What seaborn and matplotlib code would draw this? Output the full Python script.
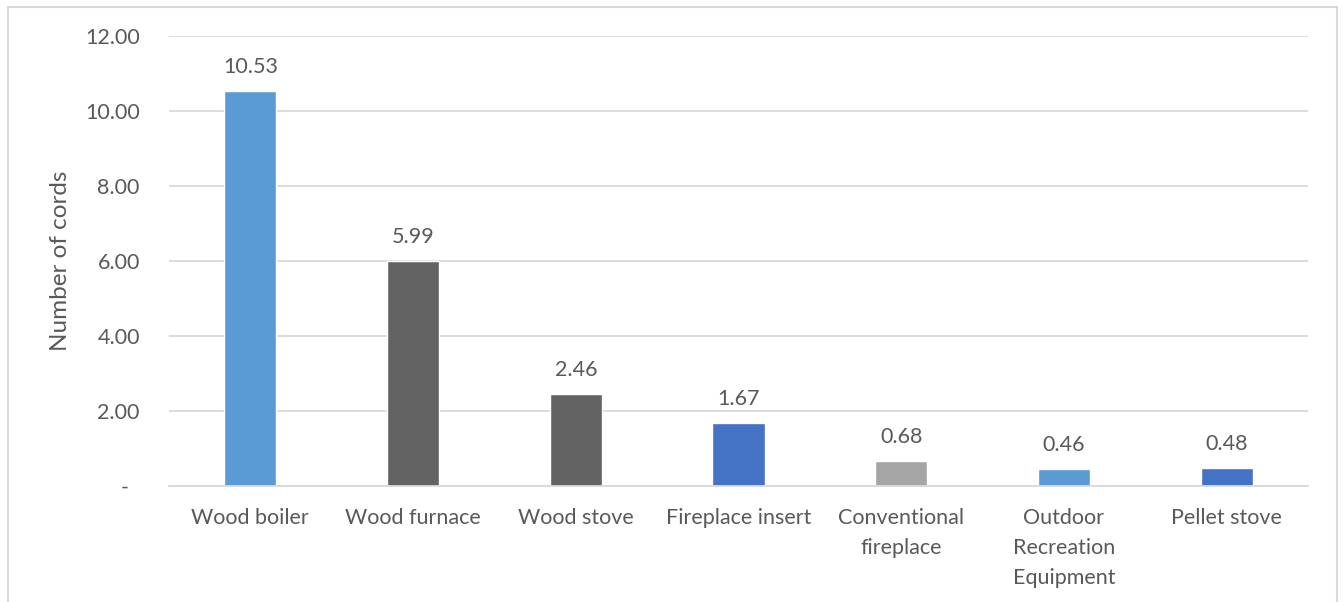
import matplotlib
matplotlib.use("Agg")
import matplotlib.pyplot as plt
import seaborn as sns
import pandas as pd
import numpy as np
from matplotlib.patches import Rectangle

categories = ["Wood boiler", "Wood furnace", "Wood stove", "Fireplace insert",
              "Conventional\nfireplace", "Outdoor\nRecreation\nEquipment", "Pellet stove"]
cords = [10.53, 5.99, 2.46, 1.67, 0.68, 0.46, 0.48]
bar_colors = ["#5B9BD5", "#636363", "#636363", "#4472C4", "#A5A5A5", "#5B9BD5", "#4472C4"]
y_ticks = [0, 2, 4, 6, 8, 10, 12]
y_tick_labels = ["-  ", "2.00", "4.00", "6.00", "8.00", "10.00", "12.00"]

sns.set_theme(style="white")
plt.rcParams["font.family"] = ["Lato", "DejaVu Sans"]

text_color = "#595959"
grid_color = "#D9D9D9"
label_size = 15.5

df = pd.DataFrame({"category": categories, "cords": cords})

fig = plt.figure(figsize=(13.43, 6.02), dpi=100)
ax = fig.add_axes([169 / 1343, 1 - 486 / 602, (1308 - 169) / 1343, (486 - 36) / 602])

sns.barplot(data=df, x="category", y="cords", hue="category", palette=bar_colors,
            dodge=False, width=0.32, legend=False, ax=ax, saturation=1)

ax.set_ylim(0, 12)
ax.set_xlim(-0.5, len(categories) - 0.5)
ax.set_yticks(y_ticks)
ax.set_yticklabels(y_tick_labels)
ax.yaxis.grid(True, color=grid_color, linewidth=1.3)
ax.set_axisbelow(True)

for side in ["top", "right", "left"]:
    ax.spines[side].set_visible(False)
ax.spines["bottom"].set_color(grid_color)
ax.spines["bottom"].set_linewidth(1.3)

ax.tick_params(axis="y", length=0, pad=21, labelsize=label_size, labelcolor=text_color)
ax.tick_params(axis="x", which="major", length=0, pad=16, labelsize=label_size, labelcolor=text_color)
ax.set_xticks(np.arange(-0.5, len(categories)), minor=True)
ax.tick_params(axis="x", which="minor", length=8, width=1.3, color=grid_color, direction="out")
for lbl in ax.get_xticklabels():
    lbl.set_linespacing(1.62)

ax.set_xlabel("")
ax.set_ylabel("Number of cords", fontsize=17.5, color=text_color, labelpad=10)

for container in ax.containers:
    ax.bar_label(container, fmt="%.2f", padding=10, fontsize=label_size, color=text_color)

# light outer frame around the chart area
fig.patches.append(Rectangle((7.5 / 1343, -0.1), (1336.5 - 7.5) / 1343, 1.1 - 6.5 / 602,
                             transform=fig.transFigure, fill=False,
                             edgecolor=grid_color, linewidth=1.5))

fig.savefig("out.png", dpi=100, facecolor="white")
